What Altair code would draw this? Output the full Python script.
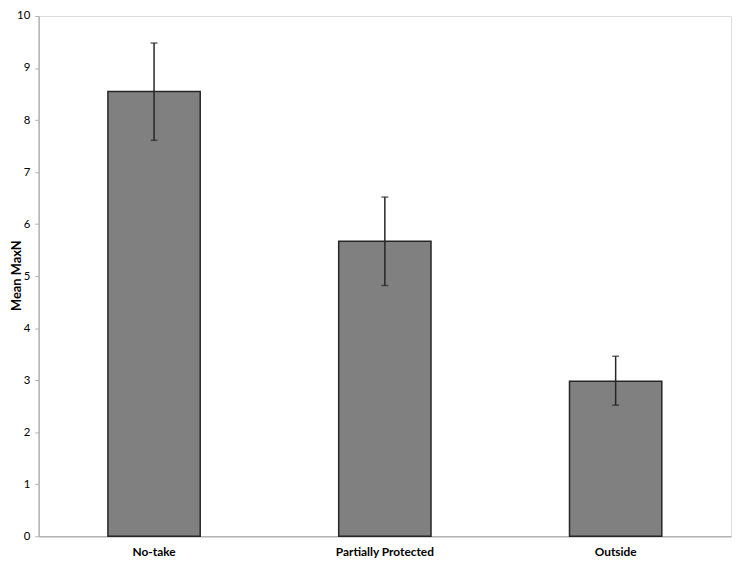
import altair as alt
import pandas as pd

categories = ["No-take", "Partially Protected", "Outside"]
means = [8.55, 5.67, 2.98]
lower = [7.61, 4.82, 2.52]
upper = [9.48, 6.52, 3.46]

df = pd.DataFrame({"cat": categories, "mean": means, "lo": lower, "hi": upper})

x = alt.X("cat:N", sort=categories, title=None,
          scale=alt.Scale(paddingInner=0.6, paddingOuter=0.3),
          axis=alt.Axis(labelAngle=0, labelFontWeight="bold", labelFontSize=12,
                        labelColor="#000000", labelPadding=10, ticks=False,
                        domainColor="#b3b3b3", domainWidth=1.5, labelFont="Lato"))
yscale = alt.Scale(domain=[0, 10])
yaxis = alt.Axis(values=list(range(0, 11)), title="Mean MaxN", titleFontWeight="bold",
                 titleFontSize=13, titleColor="#000000", titleFont="Lato",
                 titleAngle=-90, titleX=-22, titleY=262, titleAlign="center",
                 titleBaseline="middle",
                 labelFont="Lato", labelFontSize=11.5, labelColor="#000000",
                 grid=False, domainColor="#b3b3b3", domainWidth=1.5,
                 tickColor="#b3b3b3", tickSize=4, labelPadding=5)

bars = alt.Chart(df).mark_bar(color="#808080", stroke="#262626", strokeWidth=1.5).encode(
    x=x, y=alt.Y("mean:Q", scale=yscale, axis=yaxis))
rule = alt.Chart(df).mark_rule(color="#262626", strokeWidth=1.5).encode(
    x=alt.X("cat:N", sort=categories), y="lo:Q", y2="hi:Q")
cap_lo = alt.Chart(df).mark_tick(color="#262626", thickness=1.5, size=7, orient="horizontal").encode(
    x=alt.X("cat:N", sort=categories), y="lo:Q")
cap_hi = alt.Chart(df).mark_tick(color="#262626", thickness=1.5, size=7, orient="horizontal").encode(
    x=alt.X("cat:N", sort=categories), y="hi:Q")

chart = alt.layer(bars, rule, cap_lo, cap_hi).properties(
    width=700, height=526, autosize=alt.AutoSizeParams(type="none"),
    padding={"left": 31, "top": 5, "right": 4, "bottom": 30}
).configure_view(stroke=None).configure(background="white")

chart.save("out.html", embed_options={"renderer": "svg", "actions": False})
